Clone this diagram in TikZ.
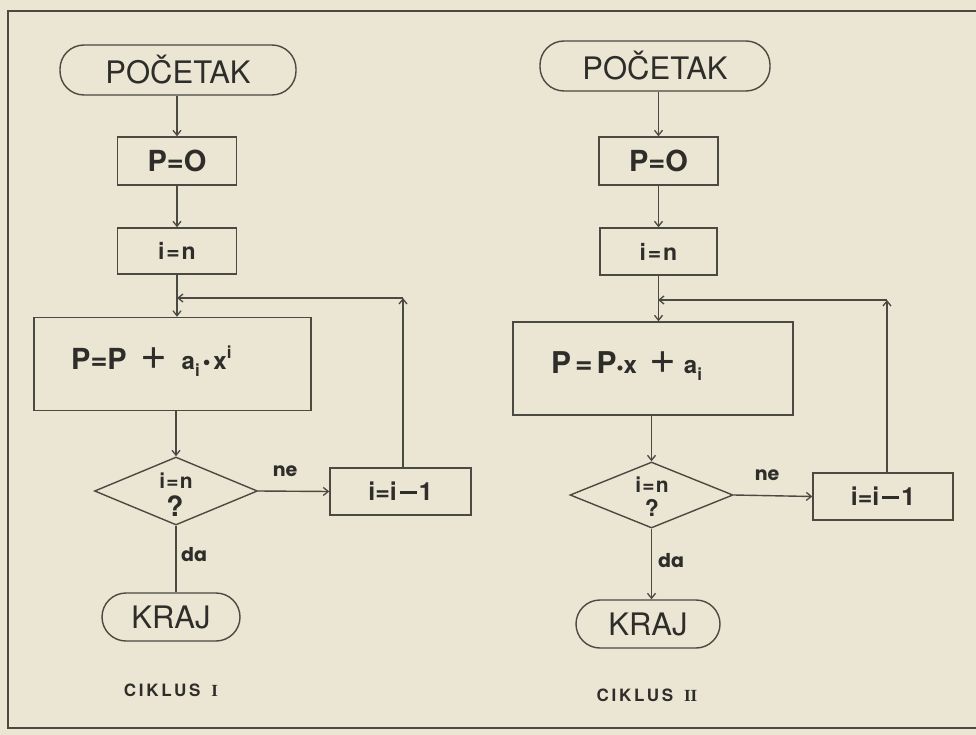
\documentclass[tikz,border=0pt]{standalone}
\usepackage{fontspec}
\setmainfont{TeX Gyre Heros}
\newfontfamily\geo{Poppins}
\newfontfamily\serifI{Liberation Serif}
\usetikzlibrary{shapes.geometric,arrows.meta}
\definecolor{bg}{HTML}{EAE6D3}
\definecolor{ink}{HTML}{4A4942}
\definecolor{txt}{HTML}{2E2D29}
\newcommand{\mydash}{\hspace{3pt}\rule[7pt]{17pt}{2.6pt}\hspace{2pt}}
\tikzset{
  box/.style={draw=ink, line width=1.4pt, rectangle, inner sep=0pt, text=txt},
  term/.style={box, rounded corners=24pt},
  dia/.style={draw=ink, line width=1.4pt, diamond, inner sep=0pt},
  lbl/.style={inner sep=0pt, text=txt},
  conn/.style={draw=ink, line width=1.4pt},
  arr/.style={conn, -{Straight Barb[length=5pt,width=8pt,line width=1.3pt]}},
}
\begin{document}
\begin{tikzpicture}[x=1pt,y=-1pt]
\useasboundingbox (0,0) rectangle (976,735);
\fill[bg] (0,0) rectangle (976,735);
% frame
\draw[ink, line width=2pt] (976,11) -- (8,11) -- (8,728) -- (976,728);

% ===== CIKLUS I =====
\node[term, minimum width=236pt, minimum height=50pt] (start1) at (178,70)
  {\fontsize{31}{32}\selectfont PO\v{C}ETAK};
\node[box, minimum width=119pt, minimum height=48pt] (p1) at (177,161)
  {\fontsize{29}{30}\selectfont\bfseries P=O};
\node[box, minimum width=119pt, minimum height=46pt] (in1) at (177,251)
  {\fontsize{23}{24}\selectfont\bfseries\addfontfeatures{LetterSpace=8}i=n};
\node[box, minimum width=277pt, minimum height=93pt] (big1) at (172.5,364) {};
\node[lbl, anchor=west] (f1) at (71,361)
  {\fontsize{29}{30}\selectfont\bfseries P=P\hspace{14pt}\mdseries\fontsize{46}{46}\selectfont +\hspace{14pt}\bfseries\fontsize{24}{24}\selectfont a\raisebox{-7pt}{\fontsize{17}{17}\selectfont i}\hspace{3pt}{\fontsize{22}{22}\selectfont\textbullet}\hspace{3pt}x\raisebox{11pt}{\fontsize{17}{17}\selectfont i}};
\node[dia, minimum width=163pt, minimum height=68pt] (d1) at (176,491) {};
\node[lbl] (q1a) at (176,481) {\fontsize{21}{22}\selectfont\bfseries\addfontfeatures{LetterSpace=6}i=n};
\node[lbl] (q1b) at (175,506) {\fontsize{28}{28}\selectfont\bfseries ?};
\node[box, minimum width=141pt, minimum height=47pt] (r1) at (400.5,491.5)
  {\fontsize{25}{26}\selectfont\bfseries i=i\mydash1};
\node[term, minimum width=138pt, minimum height=48pt] (end1) at (171,617)
  {\fontsize{31}{32}\selectfont KRAJ};
\node[lbl] (ne1) at (285,471) {\geo\fontsize{19}{20}\selectfont\bfseries ne};
\node[lbl] (da1) at (194,555) {\geo\fontsize{19}{20}\selectfont\bfseries da};
\node[lbl] (cap1) at (171,690) {\fontsize{17}{18}\selectfont\bfseries{\addfontfeatures{LetterSpace=16}CIKLUS}\hspace{11pt}{\serifI\bfseries I}};

\coordinate (j1) at (177,298);
\coordinate (c1) at (403,298);
\draw[arr] (start1.south -| p1.north) -- (p1.north);
\draw[arr] (p1) -- (in1);
\draw[arr] (in1.south) -- (in1.south |- big1.north);
\draw[arr] (c1 |- r1.north) -- (c1);
\draw[arr] (c1) -- (j1);
\draw[arr] (big1.south -| d1.north) -- (d1.north);
\draw[arr] (d1.east) -- (r1.west);
\draw[conn] (d1.south) -- (d1.south |- end1.north);

% ===== CIKLUS II =====
\node[term, minimum width=230pt, minimum height=50pt] (start2) at (655,66)
  {\fontsize{31}{32}\selectfont PO\v{C}ETAK};
\node[box, minimum width=119pt, minimum height=48pt] (p2) at (658.5,161)
  {\fontsize{29}{30}\selectfont\bfseries P=O};
\node[box, minimum width=117pt, minimum height=47pt] (in2) at (658.5,251.5)
  {\fontsize{23}{24}\selectfont\bfseries\addfontfeatures{LetterSpace=8}i=n};
\node[box, minimum width=280pt, minimum height=93pt] (big2) at (653,368.5) {};
\node[lbl, anchor=west] (f2) at (551,366)
  {\fontsize{30}{30}\selectfont\bfseries P\hspace{4pt}=\hspace{4pt}P\raisebox{-1pt}{\fontsize{20}{20}\selectfont\textbullet}\hspace{0pt}\fontsize{24}{24}\selectfont x\hspace{12pt}\mdseries\fontsize{46}{46}\selectfont +\hspace{8pt}\bfseries\fontsize{24}{24}\selectfont a\raisebox{-7pt}{\fontsize{17}{17}\selectfont i}};
\node[dia, minimum width=163pt, minimum height=66pt] (d2) at (651.5,495) {};
\node[lbl] (q2a) at (652,485) {\fontsize{21}{22}\selectfont\bfseries\addfontfeatures{LetterSpace=6}i=n};
\node[lbl] (q2b) at (652,508) {\fontsize{23}{24}\selectfont\bfseries ?};
\node[box, minimum width=140pt, minimum height=47pt] (r2) at (883,496.5)
  {\fontsize{25}{26}\selectfont\bfseries i=i\mydash1};
\node[term, minimum width=144pt, minimum height=48pt] (end2) at (648,624)
  {\fontsize{31}{32}\selectfont KRAJ};
\node[lbl] (ne2) at (767,475) {\geo\fontsize{19}{20}\selectfont\bfseries ne};
\node[lbl] (da2) at (671,561) {\geo\fontsize{19}{20}\selectfont\bfseries da};
\node[lbl] (cap2) at (647,695) {\fontsize{17}{18}\selectfont\bfseries{\addfontfeatures{LetterSpace=16}CIKLUS}\hspace{11pt}{\serifI\bfseries II}};

\coordinate (j2) at (658,300);
\coordinate (c2) at (887,300);
\draw[arr] (start2.south -| p2.north) -- (p2.north);
\draw[arr] (p2) -- (in2);
\draw[arr] (in2.south) -- (in2.south |- big2.north);
\draw[arr] (c2 |- r2.north) -- (c2);
\draw[arr] (c2) -- (j2);
\draw[arr] (big2.south -| d2.north) -- (d2.north);
\draw[arr] (d2.east) -- (r2.west);
\draw[arr] (d2.south) -- (d2.south |- end2.north);
\end{tikzpicture}
\end{document}
